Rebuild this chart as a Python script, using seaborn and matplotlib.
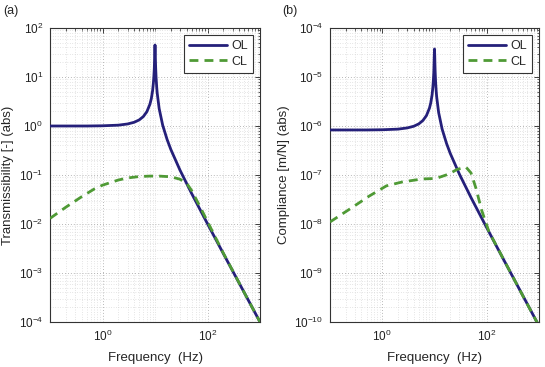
import numpy as np
import pandas as pd
import matplotlib
matplotlib.use("Agg")
import matplotlib.pyplot as plt
import seaborn as sns
from matplotlib.ticker import LogLocator, LogFormatterMathtext, NullFormatter, FixedLocator

# ---------------- data ----------------
# (a) Transmissibility, open loop
f_ol = [0.1, 0.5, 1, 2, 3, 4, 5, 6, 7, 8, 8.5, 9, 9.3, 9.5, 9.7, 9.8, 9.9, 10.0,
        10.1, 10.2, 10.3, 10.5, 10.8, 11, 12, 14, 17, 20, 30, 50, 100, 200, 500, 1000]
t_ol = [1.0, 1.0, 1.01, 1.04, 1.10, 1.19, 1.33, 1.56, 1.96, 2.78, 3.6, 5.25, 7.4,
        10.0, 15.0, 22.2, 33.0, 45.0, 33.0, 21.6, 15.3, 9.5, 6.0, 4.76, 2.27, 1.04,
        0.53, 0.333, 0.125, 0.0417, 0.0101, 0.0025, 0.0004, 0.0001]
# (a) Transmissibility, closed loop
f_cl_a = [0.1, 0.2, 0.4, 0.7, 1, 2, 3, 5, 8, 12, 20, 30, 40, 50, 70, 100, 200, 500, 1000]
t_cl = [0.013, 0.022, 0.036, 0.052, 0.062, 0.079, 0.087, 0.093, 0.095, 0.095, 0.092,
        0.082, 0.068, 0.048, 0.024, 0.0112, 0.00255, 0.0004, 0.0001]

# (b) Compliance, open loop [m/N]
c_static = 8.3e-7
c_ol = [v * c_static for v in t_ol]
# (b) Compliance, closed loop [m/N]
f_cl_b = [0.1, 0.27, 0.56, 1.2, 2.4, 5.8, 10.7, 19, 27, 40, 50, 62, 80, 110, 200, 500, 1000]
c_cl = [1.1e-8, 2.2e-8, 3.7e-8, 6.0e-8, 7.2e-8, 8.3e-8, 8.5e-8, 1.05e-7, 1.3e-7,
        1.45e-7, 1.1e-7, 5.4e-8, 1.9e-8, 7.0e-9, 2.1e-9, 3.3e-10, 8.3e-11]

labels_panel = ["(a)", "(b)"]
ylabels = ["Transmissibility [-] (abs)", "Compliance [m/N] (abs)"]
ylims = [(1e-4, 1e2), (1e-10, 1e-4)]
xlabel = "Frequency  (Hz)"

# ---------------- style ----------------
sns.set_style("white")
plt.rcParams["font.family"] = ["Liberation Sans", "DejaVu Sans"]
plt.rcParams["mathtext.fontset"] = "custom"
plt.rcParams["mathtext.rm"] = "Liberation Sans"
plt.rcParams["mathtext.it"] = "Liberation Sans:italic"

navy = "#25207a"
green = "#4f9a35"

fig = plt.figure(figsize=(5.45, 3.67), dpi=100)
ax_pos = [[50 / 545, 1 - 322 / 367, 210 / 545, 294 / 367],
          [330 / 545, 1 - 322 / 367, 209 / 545, 294 / 367]]
panel_xy = [(3 / 545, 1 - 14 / 367), (282 / 545, 1 - 14 / 367)]

datasets = [
    (f_ol, t_ol, f_cl_a, t_cl),
    (f_ol, c_ol, f_cl_b, c_cl),
]

for i, (fo, yo, fc, yc) in enumerate(datasets):
    ax = fig.add_axes(ax_pos[i])
    df_ol = pd.DataFrame({"f": fo, "y": yo})
    df_cl = pd.DataFrame({"f": fc, "y": yc})
    sns.lineplot(data=df_ol, x="f", y="y", ax=ax, color=navy, lw=2.0, label="OL",
                 sort=False, zorder=3)
    sns.lineplot(data=df_cl, x="f", y="y", ax=ax, color=green, lw=2.0, label="CL",
                 sort=False, zorder=4)
    ax.lines[1].set_linestyle((0, (3.2, 2.2)))
    ax.set_xscale("log")
    ax.set_yscale("log")
    ax.set_xlim(0.1, 1000)
    ax.set_ylim(*ylims[i])

    ax.xaxis.set_major_locator(FixedLocator([1, 100]))
    ax.xaxis.set_major_formatter(LogFormatterMathtext())
    ax.xaxis.set_minor_locator(LogLocator(base=10, subs=np.arange(1, 10), numticks=50))
    ax.xaxis.set_minor_formatter(NullFormatter())
    ax.yaxis.set_major_locator(LogLocator(base=10, numticks=20))
    ax.yaxis.set_major_formatter(LogFormatterMathtext())
    ax.yaxis.set_minor_locator(LogLocator(base=10, subs=np.arange(2, 10), numticks=50))
    ax.yaxis.set_minor_formatter(NullFormatter())

    ax.grid(True, which="major", linestyle=(0, (1, 2.5)), color="#a0a0a0", lw=0.6)
    ax.grid(True, which="minor", linestyle=(0, (1, 2.5)), color="#cccccc", lw=0.5)
    ax.tick_params(which="both", direction="in", top=True, right=True,
                   labelsize=8.5, colors="#222222", pad=5)
    ax.tick_params(which="major", length=3.5, width=0.6)
    ax.tick_params(which="minor", length=1.8, width=0.5)
    for s in ax.spines.values():
        s.set_color("#333333")
        s.set_linewidth(0.8)

    ax.set_xlabel(xlabel, fontsize=9.5, labelpad=6)
    ax.set_ylabel(ylabels[i], fontsize=9.5, labelpad=3)

    leg = ax.legend(loc="upper right", fontsize=9, frameon=True, fancybox=False,
                    handlelength=3.0, handletextpad=0.4, borderaxespad=0.55,
                    borderpad=0.4, labelspacing=0.3)
    leg.get_frame().set_edgecolor("#333333")
    leg.get_frame().set_linewidth(0.8)
    leg.get_frame().set_alpha(1)

    fig.text(panel_xy[i][0], panel_xy[i][1], labels_panel[i], fontsize=9,
             ha="left", va="baseline")

fig.savefig("out.png", dpi=100)
